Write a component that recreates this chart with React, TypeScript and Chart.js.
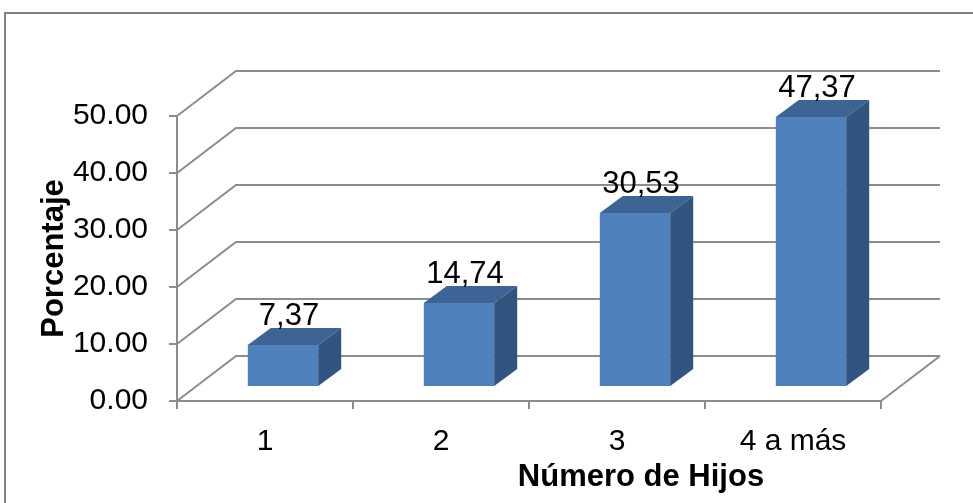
import React, { useEffect, useRef } from 'react';
import { Chart, registerables } from 'chart.js';

Chart.register(...registerables);

const categories = ['1', '2', '3', '4 a más'];
const values = [7.37, 14.74, 30.53, 47.37];
const yTickValues = [0, 10, 20, 30, 40, 50];
const xTitle = 'Número de Hijos';
const yTitle = 'Porcentaje';

const FONT = "'Liberation Sans', Arial, sans-serif";
const GRID = '#8c8c8c';
const WALL_DX = 59;
const WALL_DY = -45;
const BAR_OX = 18;
const BAR_OY = -14;
const BAR_DX = 23;
const BAR_DY = -17;

const threeD = {
  id: 'threeD',
  beforeDraw(chart: any) {
    const ctx = chart.ctx;
    ctx.save();
    ctx.fillStyle = '#ffffff';
    ctx.fillRect(0, 0, chart.width, chart.height);
    ctx.strokeStyle = '#808080';
    ctx.lineWidth = 2;
    ctx.strokeRect(5, 13, chart.width + 20, chart.height + 20);
    ctx.restore();
  },
  beforeDatasetsDraw(chart: any) {
    const { ctx, chartArea, scales } = chart;
    const { left, right, bottom } = chartArea;
    const y = scales.y;
    ctx.save();
    ctx.strokeStyle = GRID;
    ctx.lineWidth = 2;
    y.ticks.forEach((t: any) => {
      const py = y.getPixelForValue(t.value);
      ctx.beginPath();
      ctx.moveTo(left, py);
      ctx.lineTo(left + WALL_DX, py + WALL_DY);
      ctx.lineTo(right + WALL_DX, py + WALL_DY);
      ctx.stroke();
    });
    ctx.beginPath();
    ctx.moveTo(right, bottom);
    ctx.lineTo(right + WALL_DX, bottom + WALL_DY);
    ctx.stroke();
    ctx.restore();
  },
  afterDatasetsDraw(chart: any) {
    const { ctx, chartArea } = chart;
    const meta = chart.getDatasetMeta(0);
    ctx.save();
    meta.data.forEach((el: any, i: number) => {
      const { x, y, base, width } = el.getProps(['x', 'y', 'base', 'width'], true);
      const fx1 = x - width / 2 + BAR_OX;
      const fx2 = x + width / 2 + BAR_OX;
      const ft = y + BAR_OY;
      const fb = base + BAR_OY;
      // front
      ctx.fillStyle = '#4F81BD';
      ctx.fillRect(fx1, ft, fx2 - fx1, fb - ft);
      // top
      ctx.fillStyle = '#3D6494';
      ctx.beginPath();
      ctx.moveTo(fx1, ft);
      ctx.lineTo(fx1 + BAR_DX, ft + BAR_DY);
      ctx.lineTo(fx2 + BAR_DX, ft + BAR_DY);
      ctx.lineTo(fx2, ft);
      ctx.closePath();
      ctx.fill();
      // side
      ctx.fillStyle = '#32557F';
      ctx.beginPath();
      ctx.moveTo(fx2, ft);
      ctx.lineTo(fx2 + BAR_DX, ft + BAR_DY);
      ctx.lineTo(fx2 + BAR_DX, fb + BAR_DY);
      ctx.lineTo(fx2, fb);
      ctx.closePath();
      ctx.fill();
      // label
      ctx.fillStyle = '#000000';
      ctx.font = `31px ${FONT}`;
      ctx.textAlign = 'center';
      ctx.textBaseline = 'alphabetic';
      ctx.fillText(values[i].toFixed(2).replace('.', ','), x + BAR_OX + 6, ft + BAR_DY - 3);
    });
    // x-axis title
    ctx.fillStyle = '#000000';
    ctx.font = `bold 31px ${FONT}`;
    ctx.textAlign = 'center';
    ctx.textBaseline = 'middle';
    ctx.fillText(xTitle, (chartArea.left + chartArea.right) / 2 + 112, chart.height - 26);
    ctx.restore();
  },
};

export default function App() {
  const ref = useRef<HTMLCanvasElement | null>(null);
  useEffect(() => {
    if (!ref.current) return;
    const chart = new Chart(ref.current, {
      type: 'bar',
      data: {
        labels: categories,
        datasets: [
          {
            data: values,
            backgroundColor: 'rgba(0,0,0,0)',
            borderWidth: 0,
            barPercentage: 0.4,
            categoryPercentage: 1,
          },
        ],
      },
      options: {
        animation: false,
        responsive: true,
        maintainAspectRatio: false,
        layout: { padding: { top: 116, right: 92, left: 0, bottom: 0 } },
        plugins: { legend: { display: false }, tooltip: { enabled: false } },
        scales: {
          x: {
            offset: true,
            grid: { offset: true, drawOnChartArea: false, drawTicks: true, tickLength: 8, color: GRID, lineWidth: 2 },
            border: { display: true, color: GRID, width: 2 },
            ticks: { color: '#000', font: { family: FONT, size: 30 }, padding: 15, maxRotation: 0 },
            afterFit: (s: any) => { s.height = 102; },
          },
          y: {
            min: 0,
            max: 50,
            afterBuildTicks: (s: any) => { s.ticks = yTickValues.map((v) => ({ value: v })); },
            grid: { drawOnChartArea: false, drawTicks: true, tickLength: 8, color: GRID, lineWidth: 2 },
            border: { display: true, color: GRID, width: 2 },
            ticks: {
              color: '#000',
              font: { family: FONT, size: 30 },
              padding: 21,
              callback: (v: any) => Number(v).toFixed(2),
            },
            title: {
              display: true,
              text: yTitle,
              color: '#000',
              font: { family: FONT, size: 31, weight: 'bold' },
              padding: { top: 36, bottom: 0 },
            },
            afterFit: (s: any) => { s.width = 177; },
          },
        },
      },
      plugins: [threeD],
    });
    return () => chart.destroy();
  }, []);
  return (
    <div style={{ position: 'absolute', left: 0, top: 0, width: 973, height: 503 }}>
      <canvas ref={ref} />
    </div>
  );
}
